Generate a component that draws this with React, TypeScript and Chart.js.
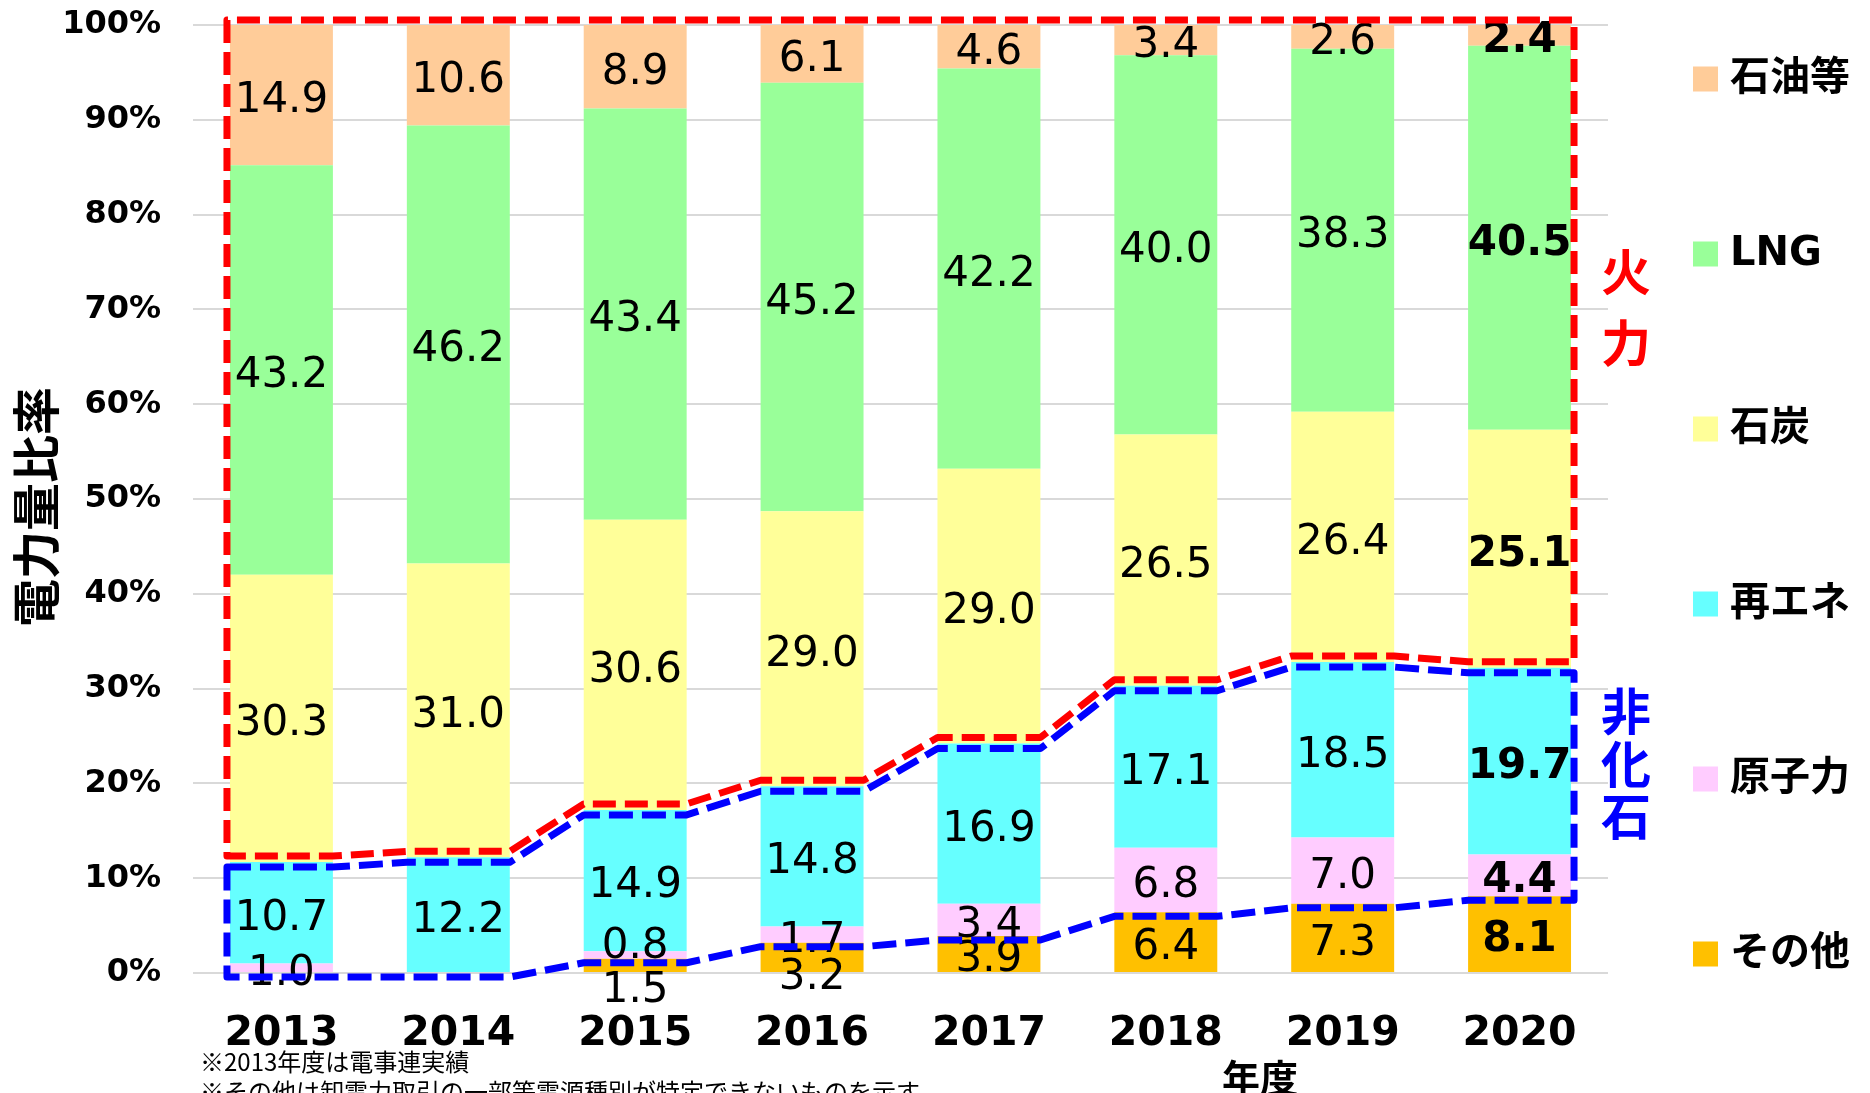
import { useEffect, useRef } from 'react';
import { Chart, registerables } from 'chart.js';

Chart.register(...registerables);

// ---- data ----
const years = ['2013', '2014', '2015', '2016', '2017', '2018', '2019', '2020'];
const oil = [14.9, 10.6, 8.9, 6.1, 4.6, 3.4, 2.6, 2.4];
const lng = [43.2, 46.2, 43.4, 45.2, 42.2, 40.0, 38.3, 40.5];
const coal = [30.3, 31.0, 30.6, 29.0, 29.0, 26.5, 26.4, 25.1];
const renewables = [10.7, 12.2, 14.9, 14.8, 16.9, 17.1, 18.5, 19.7];
const nuclear = [1.0, 0, 0.8, 1.7, 3.4, 6.8, 7.0, 4.4];
const other = [0, 0, 1.5, 3.2, 3.9, 6.4, 7.3, 8.1];
const seriesNames = ['その他', '原子力', '再エネ', '石炭', 'LNG', '石油等'];
const yAxisTitle = '電力量比率';
const xAxisTitle = '年度';
const fossilLabel = ['火', '力'];
const nonFossilLabel = ['非', '化', '石'];
const notes = ['※2013年度は電事連実績', '※その他は卸電力取引の一部等電源種別が特定できないものを示す'];

// ---- styles ----
const colors = ['#FFC000', '#FFCCFF', '#66FFFF', '#FFFF99', '#99FF99', '#FFCC99'];
const LATIN = '"DejaVu Sans", Verdana, sans-serif';
const JP = '"Noto Sans CJK JP", "Noto Sans", sans-serif';
const MIXED = '"DejaVu Sans", "Noto Sans CJK JP", sans-serif';
const W = 1870;
const H = 1093;

// manual label nudges (px) for crowded small segments: key = datasetIndex-index
const labelNudge: Record<string, number> = { '0-2': 20, '0-3': 15, '1-2': -14 };

const overlayPlugin = {
  id: 'overlay',
  afterDatasetsDraw(chart: any) {
    const ctx = chart.ctx;
    ctx.save();
    chart.data.datasets.forEach((ds: any, di: number) => {
      const meta = chart.getDatasetMeta(di);
      meta.data.forEach((el: any, i: number) => {
        const v = ds.data[i];
        if (!v) return;
        const bold = i === years.length - 1;
        ctx.font = `${bold ? 'bold ' : ''}42px ${LATIN}`;
        ctx.fillStyle = '#000';
        ctx.textAlign = 'center';
        ctx.textBaseline = 'middle';
        const top = Math.max(el.y, chart.chartArea.top);
        const y = (top + el.base) / 2 + 6 + (labelNudge[`${di}-${i}`] || 0);
        ctx.fillText(v.toFixed(1), el.x, y);
      });
    });
    ctx.restore();
  },
  afterDraw(chart: any) {
    const ctx = chart.ctx;
    const yS = chart.scales.y;
    const bars = chart.getDatasetMeta(0).data;
    const n = years.length;
    const L = (i: number) => bars[i].x - bars[i].width / 2;
    const R = (i: number) => bars[i].x + bars[i].width / 2;
    const nonFossil = years.map((_, i) => other[i] + nuclear[i] + renewables[i]);
    const yB = (i: number) => yS.getPixelForValue(nonFossil[i]);
    const yO = (i: number) => yS.getPixelForValue(other[i]);
    const edge = 3;

    ctx.save();
    ctx.lineJoin = 'round';
    ctx.lineWidth = 7;

    // fossil (red) outline
    ctx.strokeStyle = '#FF0000';
    ctx.setLineDash([23, 9]);
    ctx.beginPath();
    const topY = yS.getPixelForValue(100) - 5;
    ctx.moveTo(L(0) - edge, topY);
    for (let i = 0; i < n; i++) {
      ctx.lineTo(i === 0 ? L(i) - edge : L(i), yB(i) - 6);
      ctx.lineTo(i === n - 1 ? R(i) + edge : R(i), yB(i) - 6);
    }
    ctx.lineTo(R(n - 1) + edge, topY);
    ctx.closePath();
    ctx.stroke();

    // non-fossil (blue) outline
    ctx.strokeStyle = '#0000FF';
    ctx.setLineDash([24, 9]);
    ctx.beginPath();
    ctx.moveTo(L(0) - edge, yB(0) + 5);
    for (let i = 0; i < n; i++) {
      ctx.lineTo(i === 0 ? L(i) - edge : L(i), yB(i) + 5);
      ctx.lineTo(i === n - 1 ? R(i) + edge : R(i), yB(i) + 5);
    }
    for (let i = n - 1; i >= 0; i--) {
      ctx.lineTo(i === n - 1 ? R(i) + edge : R(i), yO(i) + 4);
      ctx.lineTo(i === 0 ? L(i) - edge : L(i), yO(i) + 4);
    }
    ctx.closePath();
    ctx.stroke();
    ctx.setLineDash([]);

    // legend (top to bottom = reverse stacking order)
    ctx.textAlign = 'left';
    ctx.textBaseline = 'middle';
    ctx.font = `bold 40px ${MIXED}`;
    const legendItems = chart.data.datasets.map((d: any) => ({ label: d.label, color: d.backgroundColor })).reverse();
    legendItems.forEach((it: any, j: number) => {
      const cy = 79 + j * 175;
      ctx.fillStyle = it.color;
      ctx.fillRect(1693, cy - 12.5, 25, 25);
      ctx.fillStyle = '#000';
      ctx.fillText(it.label, 1730, cy + 1);
    });

    // 火力 / 非化石 labels
    ctx.textAlign = 'center';
    ctx.font = `bold 50px ${JP}`;
    ctx.fillStyle = '#FF0000';
    [272, 343].forEach((cy, j) => ctx.fillText(fossilLabel[j], 1626, cy));
    ctx.fillStyle = '#0000FF';
    [711, 764, 816].forEach((cy, j) => ctx.fillText(nonFossilLabel[j], 1626, cy));

    // y axis title
    ctx.save();
    ctx.translate(36, 507);
    ctx.rotate(-Math.PI / 2);
    ctx.fillStyle = '#000';
    ctx.font = `bold 48px ${JP}`;
    ctx.fillText(yAxisTitle, 0, 0);
    ctx.restore();

    // x axis title
    ctx.fillStyle = '#000';
    ctx.font = `bold 38px ${JP}`;
    ctx.fillText(xAxisTitle, 1260, 1078);

    // notes
    ctx.textAlign = 'left';
    ctx.font = `24px ${JP}`;
    ctx.fillText(notes[0], 200, 1062);
    ctx.fillText(notes[1], 200, 1092);
    ctx.restore();
  },
};

export default function App() {
  const ref = useRef<HTMLCanvasElement | null>(null);
  useEffect(() => {
    if (!ref.current) return;
    const series = [other, nuclear, renewables, coal, lng, oil];
    const chart = new Chart(ref.current, {
      type: 'bar',
      data: {
        labels: years,
        datasets: series.map((d, k) => ({
          label: seriesNames[k],
          data: d,
          backgroundColor: colors[k],
          borderWidth: 0,
          categoryPercentage: 1,
          barPercentage: 0.582,
        })),
      },
      options: {
        responsive: false,
        animation: false,
        devicePixelRatio: 1,
        layout: { padding: { top: 25, right: 262, left: 0, bottom: 0 } },
        plugins: { legend: { display: false }, tooltip: { enabled: false } },
        scales: {
          x: {
            stacked: true,
            grid: { display: false, drawTicks: false },
            border: { display: false },
            ticks: { color: '#000', font: { family: LATIN, size: 41, weight: 'bold' }, padding: 37, maxRotation: 0 },
            afterFit: (s: any) => { s.height = 120; s.paddingLeft = 0; s.paddingRight = 0; },
          },
          y: {
            stacked: true,
            min: 0,
            max: 100,
            grid: { color: '#D9D9D9', lineWidth: 2, drawTicks: false },
            border: { display: false },
            ticks: {
              stepSize: 10,
              color: '#000',
              padding: 32,
              font: { family: LATIN, size: 32, weight: 'bold' },
              callback: (v: any) => `${v}%`,
            },
            afterFit: (s: any) => { s.width = 193; s.paddingTop = 0; s.paddingBottom = 0; },
          },
        },
      },
      plugins: [overlayPlugin],
    } as any);
    return () => chart.destroy();
  }, []);
  return (
    <div style={{ position: 'fixed', left: 0, top: 0, width: W, height: H, background: '#fff' }}>
      <canvas ref={ref} width={W} height={H} style={{ width: W, height: H, display: 'block' }} />
    </div>
  );
}
